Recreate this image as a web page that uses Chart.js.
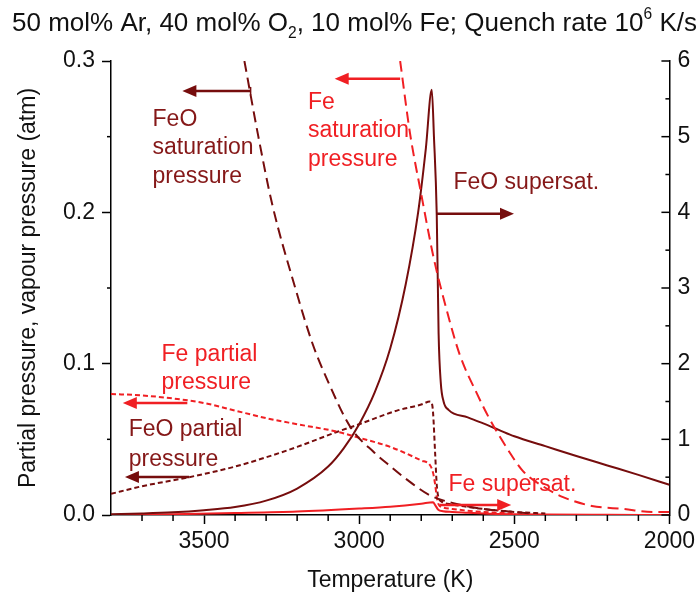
<!DOCTYPE html>
<html>
<head>
<meta charset="utf-8">
<script src="https://cdn.jsdelivr.net/npm/chart.js@4.4.0/dist/chart.umd.min.js"></script>
<style>
  html, body { margin: 0; padding: 0; background: #fff; }
</style>
</head>
<body>
<canvas id="myChart" width="699" height="600"></canvas>
<script>
// Temperatures (K) and values
const tFeOSat = [3370, 3325, 3280, 3206, 3150, 3100, 3028, 2950, 2910, 2850, 2772, 2700, 2600, 2500, 2450];
const pFeOSat = [0.300, 0.250, 0.205, 0.150, 0.113, 0.088, 0.058, 0.041, 0.034, 0.024, 0.013, 0.008, 0.004, 0.002, 0.001];

const tFeSat = [2868, 2836, 2800, 2760, 2720, 2676, 2620, 2581, 2520, 2472, 2400, 2345, 2250, 2150, 2050, 2000];
const pFeSat = [0.300, 0.252, 0.212, 0.170, 0.137, 0.106, 0.080, 0.064, 0.043, 0.029, 0.018, 0.012, 0.006, 0.004, 0.002, 0.002];

const tFeP = [3800, 3700, 3600, 3500, 3400, 3300, 3200, 3070, 3000, 2900, 2800, 2772, 2762, 2755, 2750, 2744, 2730, 2700, 2600, 2500];
const pFeP = [0.080, 0.079, 0.077, 0.074, 0.069, 0.064, 0.060, 0.055, 0.051, 0.045, 0.036, 0.033, 0.028, 0.020, 0.012, 0.007, 0.005, 0.004, 0.002, 0.001];

const tFeOP = [3800, 3700, 3548, 3400, 3302, 3200, 3070, 3000, 2878, 2800, 2772, 2766, 2762, 2755, 2750, 2745, 2735, 2700, 2600, 2500, 2400];
const pFeOP = [0.014, 0.019, 0.025, 0.032, 0.038, 0.045, 0.055, 0.060, 0.069, 0.073, 0.075, 0.074, 0.068, 0.040, 0.020, 0.012, 0.009, 0.007, 0.004, 0.002, 0.001];

// supersaturation, right axis
const tFeOSup = [3800, 3700, 3600, 3500, 3400, 3300, 3200, 3100, 3050, 3000, 2950, 2900, 2850, 2810, 2785, 2766, 2759, 2750, 2744, 2737, 2728, 2712, 2650, 2600, 2550, 2500, 2400, 2300, 2200, 2100, 2000];
const sFeOSup = [0.011, 0.02, 0.035, 0.063, 0.105, 0.19, 0.35, 0.64, 0.88, 1.2, 1.62, 2.2, 3.05, 4.0, 4.85, 5.62, 5.0, 3.97, 2.4, 1.75, 1.5, 1.39, 1.29, 1.21, 1.125, 1.04, 0.91, 0.78, 0.655, 0.53, 0.40];

const tFeSup = [3800, 3600, 3400, 3200, 3000, 2900, 2800, 2762, 2755, 2745, 2730, 2700, 2650, 2600, 2500, 2400, 2200, 2000];
const sFeSup = [0.0, 0.01, 0.025, 0.045, 0.085, 0.11, 0.15, 0.17, 0.13, 0.07, 0.05, 0.04, 0.03, 0.02, 0.01, 0.005, 0.002, 0.001];

const xTicks = [3500, 3000, 2500, 2000];
const yTicks = [0.0, 0.1, 0.2, 0.3];
const y2Ticks = [0, 1, 2, 3, 4, 5, 6];

const DARK = '#760d0d';
const DARK_TXT = '#851818';
const RED = '#f01f23';
const FONT = '"Liberation Sans", Arial, sans-serif';

function pts(ts, vs) {
    return ts.map((t, i) => ({x: t, y: vs[i]}));
}

// annotations in data coordinates (T, left-axis pressure)
const notes = [
    {lines: ['FeO', 'saturation', 'pressure'], t: 3666, p: [0.261, 0.2426, 0.2234], color: DARK_TXT},
    {lines: ['Fe', 'saturation', 'pressure'], t: 3165, p: [0.2723, 0.2538, 0.2346], color: RED},
    {lines: ['FeO supersat.'], t: 2696, p: [0.2194], color: DARK_TXT},
    {lines: ['Fe partial', 'pressure'], t: 3637, p: [0.1057, 0.0872], color: RED},
    {lines: ['FeO partial', 'pressure'], t: 3743, p: [0.0562, 0.0364], color: DARK_TXT},
    {lines: ['Fe supersat.'], t: 2712, p: [0.0198], color: RED}
];
const arrows = [
    {from: 3350, to: 3570, p: 0.2802, color: DARK, cap: true},
    {from: 2868, to: 3079, p: 0.2882, color: RED},
    {from: 2750, to: 2501, p: 0.199, color: DARK},
    {from: 3554, to: 3762, p: 0.074, color: RED},
    {from: 3548, to: 3755, p: 0.0251, color: DARK},
    {from: 2740, to: 2510, p: 0.0066, color: RED}
];

function drawParts(ctx, parts, x, y, size) {
    ctx.textBaseline = 'alphabetic';
    ctx.textAlign = 'left';
    parts.forEach(part => {
        let s = size, dy = 0;
        if (part.sub) { s = size * 0.6; dy = size * 0.28; }
        if (part.sup) { s = size * 0.6; dy = -size * 0.45; }
        ctx.font = s + 'px ' + FONT;
        ctx.fillText(part.text, x, y + dy);
        x += ctx.measureText(part.text).width;
    });
}

const decorations = {
    id: 'decorations',
    afterDraw(chart) {
        const ctx = chart.ctx;
        const xs = chart.scales.x, ys = chart.scales.y, y2s = chart.scales.y2;
        const a = chart.chartArea;
        ctx.save();
        ctx.strokeStyle = '#000';
        ctx.lineWidth = 1.5;
        const seg = (x1, y1, x2, y2) => { ctx.beginPath(); ctx.moveTo(x1, y1); ctx.lineTo(x2, y2); ctx.stroke(); };

        // minor ticks on bottom axis
        for (let t = 2100; t < 3800; t += 100) {
            if (t % 500 === 0) continue;
            const px = xs.getPixelForValue(t);
            seg(px, a.bottom, px, a.bottom + 6);
        }
        // minor ticks on left axis
        [0.05, 0.15, 0.25].forEach(v => {
            const py = ys.getPixelForValue(v);
            seg(a.left - 4, py, a.left, py);
        });
        // right axis ticks point inward
        for (let v = 0; v <= 6; v += 0.5) {
            const py = y2s.getPixelForValue(v);
            const len = Number.isInteger(v) ? 8 : 4;
            seg(a.right - len, py, a.right, py);
        }

        // title with sub- and superscript
        ctx.fillStyle = '#111';
        drawParts(ctx, [
            {text: '50 mol% Ar, 40 mol% O'}, {text: '2', sub: true},
            {text: ', 10 mol% Fe; Quench rate 10'}, {text: '6', sup: true}, {text: ' K/s'}
        ], 12, 31, 26);

        // text labels
        ctx.font = '23px ' + FONT;
        ctx.textAlign = 'left';
        ctx.textBaseline = 'middle';
        notes.forEach(n => {
            ctx.fillStyle = n.color;
            n.lines.forEach((line, i) => {
                ctx.fillText(line, xs.getPixelForValue(n.t), ys.getPixelForValue(n.p[i]));
            });
        });

        // arrows
        arrows.forEach(ar => {
            const x1 = xs.getPixelForValue(ar.from), x2 = xs.getPixelForValue(ar.to);
            const py = ys.getPixelForValue(ar.p);
            const dir = Math.sign(x2 - x1);
            ctx.strokeStyle = ar.color;
            ctx.fillStyle = ar.color;
            ctx.lineWidth = 2.5;
            seg(x1, py, x2 - dir * 10, py);
            ctx.beginPath();
            ctx.moveTo(x2, py);
            ctx.lineTo(x2 - dir * 14, py - 6);
            ctx.lineTo(x2 - dir * 14, py + 6);
            ctx.closePath();
            ctx.fill();
            if (ar.cap) { ctx.lineWidth = 1.5; seg(x1, py - 4, x1, py + 4); }
        });
        ctx.restore();
    }
};

const base = {pointRadius: 0, borderWidth: 2, fill: false, cubicInterpolationMode: 'monotone'};

const ctx = document.getElementById('myChart').getContext('2d');
const chart = new Chart(ctx, {
    type: 'line',
    data: {
        datasets: [
            Object.assign({label: 'FeO saturation pressure', data: pts(tFeOSat, pFeOSat), borderColor: DARK, borderDash: [11, 6], yAxisID: 'y'}, base),
            Object.assign({label: 'Fe saturation pressure', data: pts(tFeSat, pFeSat), borderColor: RED, borderDash: [11, 6], yAxisID: 'y'}, base),
            Object.assign({label: 'Fe partial pressure', data: pts(tFeP, pFeP), borderColor: RED, borderDash: [5, 3], yAxisID: 'y'}, base),
            Object.assign({label: 'FeO partial pressure', data: pts(tFeOP, pFeOP), borderColor: DARK, borderDash: [5, 3], yAxisID: 'y'}, base),
            Object.assign({label: 'FeO supersat.', data: pts(tFeOSup, sFeOSup), borderColor: DARK, yAxisID: 'y2'}, base),
            Object.assign({label: 'Fe supersat.', data: pts(tFeSup, sFeSup), borderColor: RED, yAxisID: 'y2'}, base)
        ]
    },
    options: {
        responsive: false,
        animation: false,
        layout: {padding: {top: 61, left: 0, right: 0, bottom: 0}},
        plugins: {legend: {display: false}, tooltip: {enabled: false}, title: {display: false}},
        scales: {
            x: {
                type: 'linear',
                min: 2000, max: 3800, reverse: true,
                afterFit: s => { s.height = 85; },
                afterBuildTicks: s => { s.ticks = xTicks.map(v => ({value: v})); },
                ticks: {color: '#111', font: {family: FONT, size: 23}, padding: 4, maxRotation: 0, autoSkip: false, callback: v => String(v)},
                grid: {drawOnChartArea: false, drawTicks: true, tickLength: 9, tickColor: '#000', tickWidth: 1.5},
                border: {display: true, color: '#000', width: 1.5},
                title: {display: true, text: 'Temperature (K)', color: '#111', font: {family: FONT, size: 23}, padding: {top: 0, bottom: 6}}
            },
            y: {
                position: 'left',
                min: 0, max: 0.3,
                afterFit: s => { s.width = 111; },
                afterBuildTicks: s => { s.ticks = yTicks.map(v => ({value: v})); },
                ticks: {color: '#111', font: {family: FONT, size: 23}, padding: 7, callback: v => v.toFixed(1)},
                grid: {drawOnChartArea: false, drawTicks: true, tickLength: 9, tickColor: '#000', tickWidth: 1.5},
                border: {display: true, color: '#000', width: 1.5},
                title: {display: true, text: 'Partial pressure, vapour pressure (atm)', color: '#111', font: {family: FONT, size: 23}, padding: {top: 15, bottom: 0}}
            },
            y2: {
                position: 'right',
                min: 0, max: 6,
                afterFit: s => { s.width = 24; },
                afterBuildTicks: s => { s.ticks = y2Ticks.map(v => ({value: v})); },
                ticks: {color: '#111', font: {family: FONT, size: 23}, padding: 8},
                grid: {drawOnChartArea: false, drawTicks: false},
                border: {display: true, color: '#000', width: 1.5}
            }
        }
    },
    plugins: [decorations]
});
</script>
</body>
</html>
